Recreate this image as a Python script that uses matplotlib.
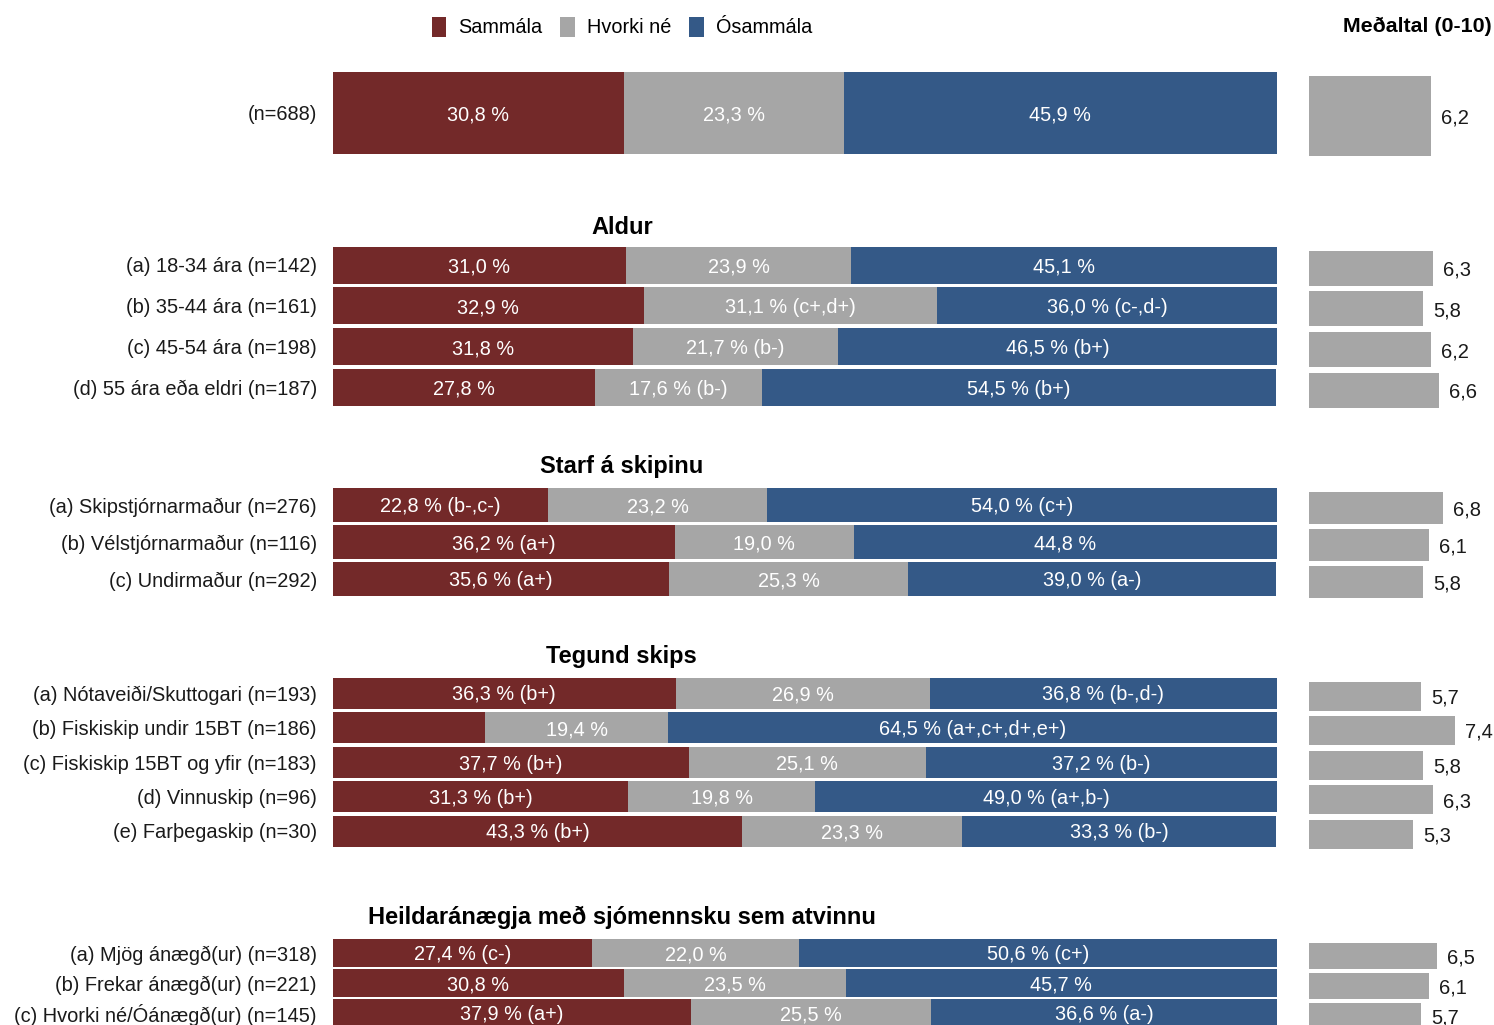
import matplotlib.pyplot as plt
from matplotlib.patches import Patch

plt.rcParams['font.family'] = ['Liberation Sans', 'DejaVu Sans']

# gögn
series = ["Sammála", "Hvorki né", "Ósammála"]
colors = ["#732929", "#a6a6a6", "#345987"]

group_titles = ["", "Aldur", "Starf á skipinu", "Tegund skips",
                "Heildaránægja með sjómennsku sem atvinnu"]
row_group = [0, 1, 1, 1, 1, 2, 2, 2, 3, 3, 3, 3, 3, 4, 4, 4]
row_labels = [
    "(n=688)",
    "(a) 18-34 ára (n=142)",
    "(b) 35-44 ára (n=161)",
    "(c) 45-54 ára (n=198)",
    "(d) 55 ára eða eldri (n=187)",
    "(a) Skipstjórnarmaður (n=276)",
    "(b) Vélstjórnarmaður (n=116)",
    "(c) Undirmaður (n=292)",
    "(a) Nótaveiði/Skuttogari (n=193)",
    "(b) Fiskiskip undir 15BT (n=186)",
    "(c) Fiskiskip 15BT og yfir (n=183)",
    "(d) Vinnuskip (n=96)",
    "(e) Farþegaskip (n=30)",
    "(a) Mjög ánægð(ur) (n=318)",
    "(b) Frekar ánægð(ur) (n=221)",
    "(c) Hvorki né/Óánægð(ur) (n=145)",
]
sammala = [30.8, 31.0, 32.9, 31.8, 27.8, 22.8, 36.2, 35.6,
           36.3, 16.1, 37.7, 31.3, 43.3, 27.4, 30.8, 37.9]
hvorki = [23.3, 23.9, 31.1, 21.7, 17.6, 23.2, 19.0, 25.3,
          26.9, 19.4, 25.1, 19.8, 23.3, 22.0, 23.5, 25.5]
osammala = [45.9, 45.1, 36.0, 46.5, 54.5, 54.0, 44.8, 39.0,
            36.8, 64.5, 37.2, 49.0, 33.3, 50.6, 45.7, 36.6]
sammala_txt = ["30,8 %", "31,0 %", "32,9 %", "31,8 %", "27,8 %",
               "22,8 % (b-,c-)", "36,2 % (a+)", "35,6 % (a+)",
               "36,3 % (b+)", "", "37,7 % (b+)", "31,3 % (b+)", "43,3 % (b+)",
               "27,4 % (c-)", "30,8 %", "37,9 % (a+)"]
hvorki_txt = ["23,3 %", "23,9 %", "31,1 % (c+,d+)", "21,7 % (b-)", "17,6 % (b-)",
              "23,2 %", "19,0 %", "25,3 %",
              "26,9 %", "19,4 %", "25,1 %", "19,8 %", "23,3 %",
              "22,0 %", "23,5 %", "25,5 %"]
osammala_txt = ["45,9 %", "45,1 %", "36,0 % (c-,d-)", "46,5 % (b+)", "54,5 % (b+)",
                "54,0 % (c+)", "44,8 %", "39,0 % (a-)",
                "36,8 % (b-,d-)", "64,5 % (a+,c+,d+,e+)", "37,2 % (b-)",
                "49,0 % (a+,b-)", "33,3 % (b-)",
                "50,6 % (c+)", "45,7 %", "36,6 % (a-)"]
medaltal = [6.2, 6.3, 5.8, 6.2, 6.6, 6.8, 6.1, 5.8,
            5.7, 7.4, 5.8, 6.3, 5.3, 6.5, 6.1, 5.7]

# útlit hópa (pixlar): fyrsta röð, bil milli raða, hæð stöpla, y titils
g_first = [113, 265, 505, 693, 953]
g_pitch = [0, 40.8, 37, 34.5, 30]
g_height = [82, 37, 34, 31, 28]
g_title_y = [0, 227, 467, 657, 917]

W, H = 1494, 1025
fig = plt.figure(figsize=(W / 100, H / 100), dpi=100)
ax = fig.add_axes([333 / W, 0, 944 / W, 1])
axm = fig.add_axes([1309 / W, 0, 197 / W, 1])
for a in (ax, axm):
    a.set_ylim(H, 0)
    a.axis("off")
ax.set_xlim(0, 100)
axm.set_xlim(0, 10)

ypos, heights = [], []
count = {}
for g in row_group:
    i = count.get(g, 0)
    ypos.append(g_first[g] + i * g_pitch[g])
    heights.append(g_height[g])
    count[g] = i + 1

lefts = [0] * len(ypos)
for vals, txts, c in zip([sammala, hvorki, osammala],
                         [sammala_txt, hvorki_txt, osammala_txt], colors):
    bars = ax.barh(ypos, vals, left=lefts, height=heights, color=c, edgecolor="none")
    for b, t in zip(bars, txts):
        ax.text(b.get_x() + b.get_width() / 2, b.get_y() + b.get_height() / 2 + 2, t,
                ha="center", va="center", color="white", fontsize=14.3)
    lefts = [l + v for l, v in zip(lefts, vals)]

for y, lab in zip(ypos, row_labels):
    ax.text(-1.7, y + 2, lab, ha="right", va="center", fontsize=14.4, color="#1a1a1a")

for g, t in enumerate(group_titles):
    if t:
        ax.text(30.6, g_title_y[g], t, ha="center", va="center", fontsize=17,
                fontweight="bold", color="black")

# meðaltal
my = [y + 3 for y in ypos]
mh = [h - 2 for h in heights]
mbars = axm.barh(my, medaltal, height=mh, color="#a6a6a6", edgecolor="none")
for b, v in zip(mbars, medaltal):
    axm.text(b.get_width() + 0.5, b.get_y() + b.get_height() / 2 + 2,
             f"{v:.1f}".replace(".", ","), ha="left", va="center",
             fontsize=14.5, color="#1a1a1a")
fig.text(1492 / W, 1 - 26 / H, "Meðaltal (0-10)", ha="right", va="center",
         fontsize=15.4, fontweight="bold")

handles = [Patch(facecolor=c, edgecolor="none") for c in colors]
fig.legend(handles, series, loc="center", bbox_to_anchor=(622 / W, 1 - 27 / H),
           ncol=3, frameon=False, fontsize=14.3, handlelength=0.75, handleheight=1.2,
           handletextpad=0.6, columnspacing=0.9)

fig.savefig("out.png", dpi=100)
